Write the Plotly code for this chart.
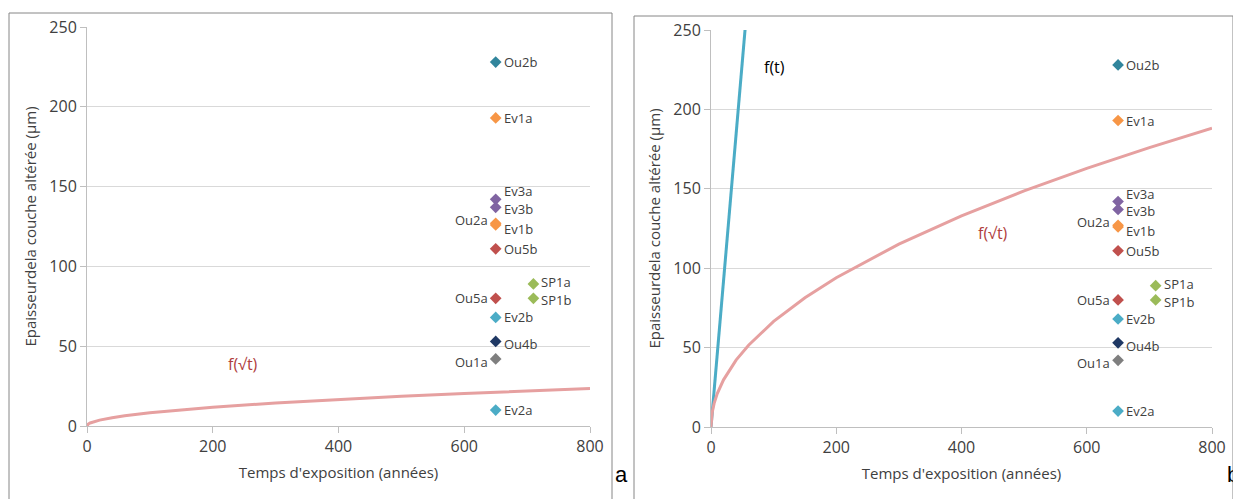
import plotly.graph_objects as go

# ---- data ----
labels = ["Ou2b", "Ev1a", "Ev3a", "Ev3b", "Ou2a", "Ev1b", "Ou5b", "SP1a", "SP1b", "Ou5a", "Ev2b", "Ou4b", "Ou1a", "Ev2a"]
years = [650, 650, 650, 650, 650, 650, 650, 710, 710, 650, 650, 650, 650, 650]
thickness = [228, 193, 142, 137, 127, 126, 111, 89, 80, 80, 68, 53, 42, 10]
point_colors = ["#31859C", "#F79646", "#8064A2", "#8064A2", "#F79646", "#F79646", "#C0504D",
                "#9BBB59", "#9BBB59", "#C0504D", "#4BACC6", "#1F3864", "#7F7F7F", "#4BACC6"]
label_side = ["right", "right", "right", "right", "left", "right", "right",
              "right", "right", "left", "right", "right", "left", "right"]
label_dy = [0, 0, 8, -2, 3, -4, 0, 2, -2, 0, 0, -3, -3, 0]

curve_t = [0, 2, 5, 10, 20, 40, 60, 100, 150, 200, 300, 400, 500, 600, 700, 800]
sqrt_left = [0, 1.2, 1.9, 2.6, 3.7, 5.2, 6.4, 8.3, 10.2, 11.7, 14.4, 16.6, 18.6, 20.3, 22.0, 23.5]
sqrt_right = [0, 9.4, 14.9, 21.0, 29.7, 42.1, 51.5, 66.5, 81.4, 94.0, 115.2, 133.0, 148.7, 162.9, 175.9, 188.1]
lin_t = [0, 60]
lin_y = [0, 276]

x_ticks = [0, 200, 400, 600, 800]
y_ticks = [0, 50, 100, 150, 200, 250]

FONT = "Open Sans"
TXT = "#404040"
OFF = 8  # page body margin
W, H = 1241 - OFF, 499 - OFF


def px(x):
    return (x - OFF) / W


def py(y):
    return 1 - (y - OFF) / H


fig = go.Figure()

for xa, ya, sq in (("x", "y", sqrt_left), ("x2", "y2", sqrt_right)):
    if xa == "x2":
        fig.add_trace(go.Scatter(x=lin_t, y=lin_y, mode="lines", line=dict(color="#4BACC6", width=3),
                                 xaxis=xa, yaxis=ya, showlegend=False, hoverinfo="skip"))
    fig.add_trace(go.Scatter(x=curve_t, y=sq, mode="lines", line=dict(color="#E6A0A0", width=3),
                             xaxis=xa, yaxis=ya, showlegend=False, hoverinfo="skip"))
    fig.add_trace(go.Scatter(x=years, y=thickness, mode="markers", text=labels,
                             marker=dict(symbol="diamond", size=9, color=point_colors),
                             xaxis=xa, yaxis=ya, showlegend=False, cliponaxis=False))
    for lab, xv, yv, side, dy in zip(labels, years, thickness, label_side, label_dy):
        fig.add_annotation(x=xv, y=yv, xref=xa, yref=ya, text=lab, showarrow=False,
                           xanchor="left" if side == "right" else "right",
                           xshift=6 if side == "right" else -6, yshift=dy,
                           font=dict(family=FONT, size=13, color=TXT))


def xax(domain, anchor):
    return dict(domain=domain, anchor=anchor, range=[0, 800], tickvals=x_ticks, showgrid=False,
                zeroline=False, showline=True, linecolor="#BFBFBF", linewidth=1, automargin=False,
                ticks="outside", ticklen=6, tickcolor="#BFBFBF",
                tickfont=dict(family=FONT, size=16, color=TXT),
                title=dict(text="Temps d'exposition (années)", font=dict(family=FONT, size=15, color=TXT), standoff=11))


def yax(domain, anchor):
    return dict(domain=domain, anchor=anchor, range=[0, 250], tickvals=y_ticks, showgrid=True,
                gridcolor="#D9D9D9", gridwidth=1, zeroline=False, showline=True, linecolor="#BFBFBF",
                ticks="outside", ticklen=6, tickcolor="#BFBFBF", automargin=False,
                tickfont=dict(family=FONT, size=16, color=TXT),
                title=dict(text="Epaisseurdela couche altérée (µm)", font=dict(family=FONT, size=15, color=TXT), standoff=9))


fig.update_layout(
    width=W, height=H, margin=dict(l=0, r=0, t=0, b=0),
    paper_bgcolor="white", plot_bgcolor="white",
    xaxis=xax([px(87), px(590)], "y"),
    yaxis=yax([py(426), py(27)], "x"),
    xaxis2=xax([px(711), px(1212)], "y2"),
    yaxis2=yax([py(427), py(30)], "x2"),
)

# chart frames
fig.add_shape(type="rect", xref="paper", yref="paper", x0=px(9), x1=px(612), y0=-0.05, y1=py(13),
              line=dict(color="#868686", width=1))
fig.add_shape(type="rect", xref="paper", yref="paper", x0=px(634), x1=px(1233), y0=-0.05, y1=py(16),
              line=dict(color="#868686", width=1))

# curve labels
fig.add_annotation(x=248, y=39, xref="x", yref="y", text="f(√t)", showarrow=False,
                   font=dict(family=FONT, size=16, color="#B0403D"))
fig.add_annotation(x=450, y=122, xref="x2", yref="y2", text="f(√t)", showarrow=False,
                   font=dict(family=FONT, size=16, color="#B0403D"))
fig.add_annotation(x=102, y=227, xref="x2", yref="y2", text="f(t)", showarrow=False,
                   font=dict(family=FONT, size=16, color="#000000"))

# panel letters
fig.add_annotation(x=px(621), y=py(489), xref="paper", yref="paper", text="a", showarrow=False,
                   font=dict(family="Liberation Sans", size=22, color="#000000"))
fig.add_annotation(x=1, y=py(489), xref="paper", yref="paper", text="b", showarrow=False,
                   xanchor="right",
                   font=dict(family="Liberation Sans", size=22, color="#000000"))

fig.write_html("out.html")
